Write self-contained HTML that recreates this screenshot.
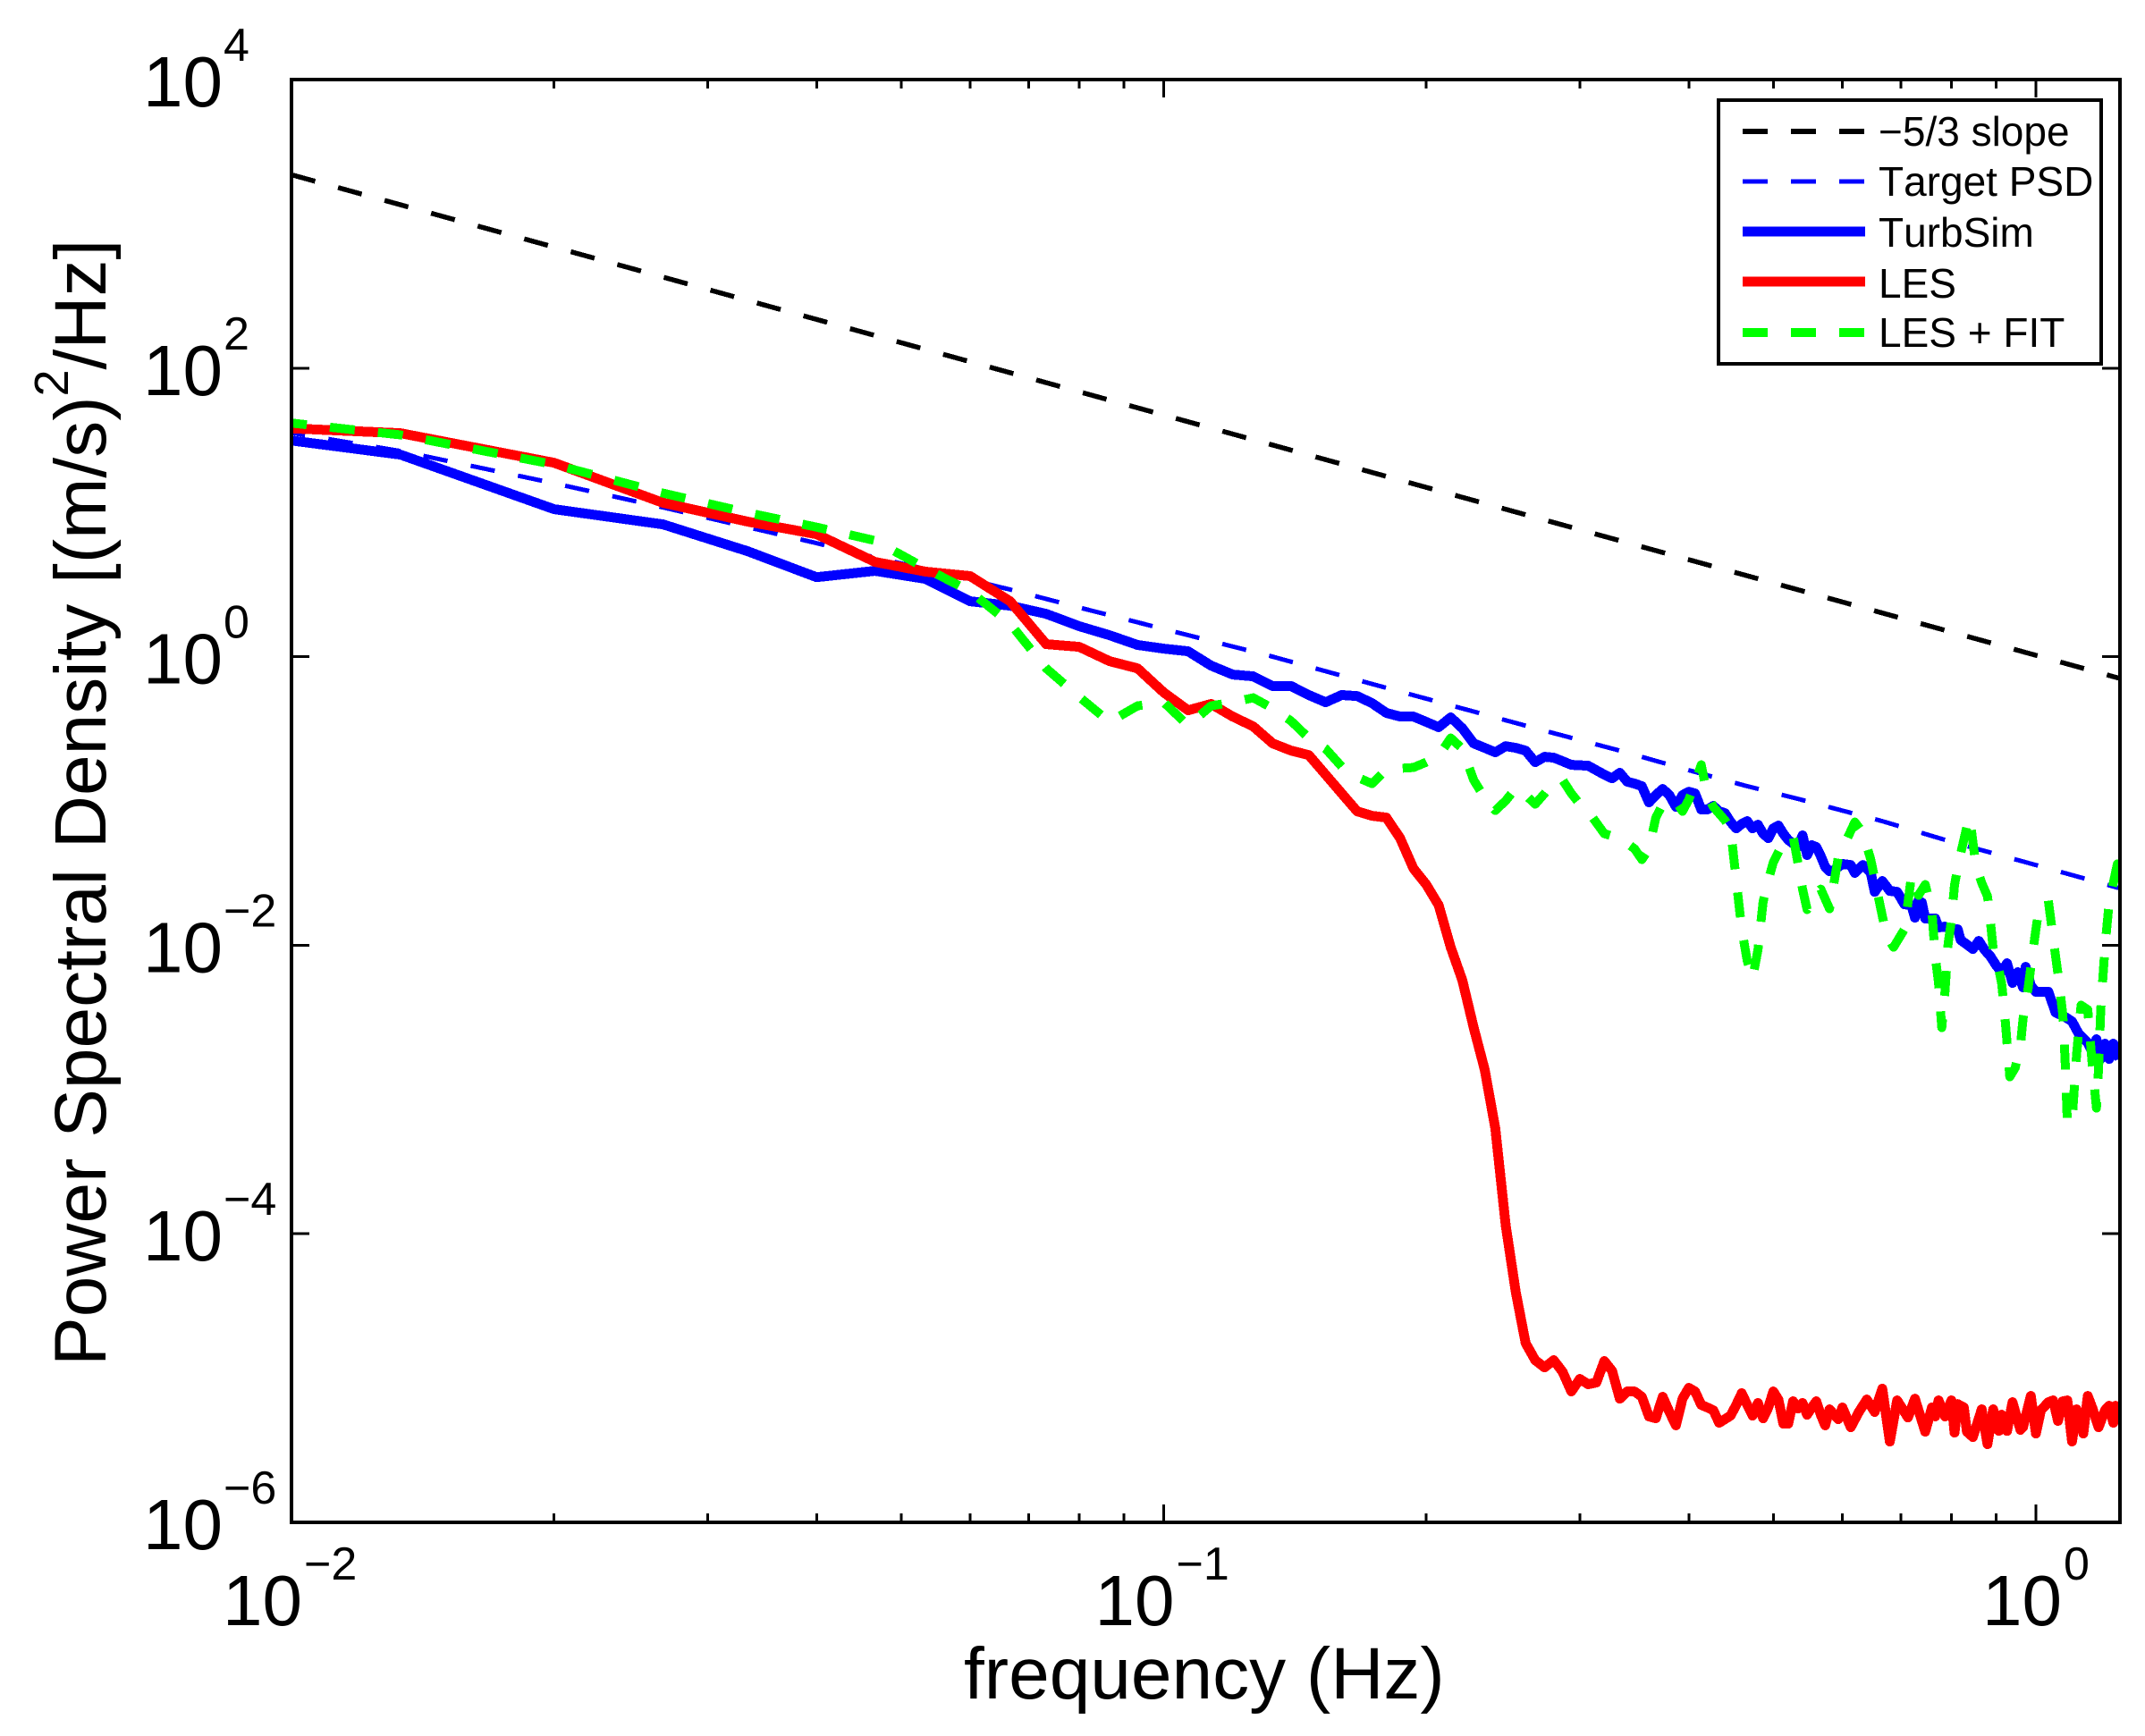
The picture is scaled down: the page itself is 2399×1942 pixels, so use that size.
<!DOCTYPE html>
<html lang="en">
<head>
<meta charset="utf-8">
<title>Power Spectral Density</title>
<style>
html,body{margin:0;padding:0;background:#fff}
svg{display:block}
text{font-family:"Liberation Sans",Arial,sans-serif;fill:#000;font-kerning:none}
path,line,rect{shape-rendering:crispEdges}
</style>
</head>
<body>
<svg id="chart" xmlns="http://www.w3.org/2000/svg" width="2399" height="1942" viewBox="0 0 2399 1942">
  <rect x="0" y="0" width="2399" height="1942" fill="#fff"/>
  <defs><clipPath id="plot-clip"><rect x="326" y="89" width="2045" height="1614"/></clipPath></defs>
  <g id="series-layer" clip-path="url(#plot-clip)"></g>
  <g id="tick-layer"></g>
  <rect x="326" y="89" width="2045" height="1614" fill="none" stroke="#000" stroke-width="4"/>
  <g id="label-layer"></g>
  <text x="1078" y="1900" font-size="82">frequency (Hz)</text>
  <text transform="translate(118 1528) rotate(-90)" font-size="82">Power Spectral Density [(m/s)<tspan font-size="54" dy="-42">2</tspan><tspan dy="42">/Hz]</tspan></text>
  <g>
    <rect x="1922" y="112" width="428" height="295" fill="#fff" stroke="#000" stroke-width="4"/>
    <line x1="1949" y1="147" x2="2086" y2="147" stroke="#000" stroke-width="6" stroke-dasharray="28 26"/>
    <text x="2101" y="163" font-size="46">−5/3 slope</text>
    <line x1="1949" y1="203" x2="2086" y2="203" stroke="#00f" stroke-width="5" stroke-dasharray="28 26"/>
    <text x="2101" y="219" font-size="46">Target PSD</text>
    <line x1="1949" y1="259" x2="2086" y2="259" stroke="#00f" stroke-width="11"/>
    <text x="2101" y="276" font-size="46">TurbSim</text>
    <line x1="1949" y1="315" x2="2086" y2="315" stroke="#f00" stroke-width="11"/>
    <text x="2101" y="333" font-size="46">LES</text>
    <line x1="1949" y1="372" x2="2086" y2="372" stroke="#0f0" stroke-width="10" stroke-dasharray="28 26"/>
    <text x="2101" y="388" font-size="46">LES + FIT</text>
  </g>
</svg>
<script>
// Frequency resolution of the spectra (Hz per bin); series use bin numbers as categories.
const binHz = 1 / 150;
const xTickExponents = [-2, -1, 0];
const xMinorMultipliers = [2, 3, 4, 5, 6, 7, 8, 9];
const yTickExponents = [-6, -4, -2, 0, 2, 4];

// All PSD values are log10 of [(m/s)^2/Hz].
const slopeBins = [1.5, 187];
const slopeLogPsd = [3.340, -0.150];

const targetBins = [1,2,3,4,5,6,7,8,10,12,15,20,25,30,40,50,60,70,80,100,120,150,187];
const targetLogPsd = [1.729,1.425,1.202,1.035,0.898,0.787,0.688,0.607,0.465,0.341,0.192,0,-0.161,-0.291,-0.496,-0.651,-0.787,-0.898,-0.985,-1.140,-1.283,-1.444,-1.605];

const turbsimBins = [
  1,2,3,4,5,6,7,8,9,10,
  11,12,13,14,15,16,17,18,19,20,
  21,22,23,24,25,26,27,28,29,30,
  31,32,33,34,35,36,37,38,39,40,
  41,42,43,44,46,48,49,50,51,52,
  53,54,55,56,57,58,59,60,61,62,
  63,64,65,66,67,68,69,70,71,72,
  73,74,75,76,77,78,80,81,82,83,
  84,85,86,87,88,90,92,93,95,97,
  98,100,102,104,106,108,109,110,111,112,
  115,116,118,120,122,123,125,127,129,131,
  133,135,137,139,141,143,145,146,148,150,
  155,158,162,165,168,172,174,176,178,180,
  182,184,187];
const turbsimLogPsd = [
  1.636,1.400,1.022,0.917,0.731,0.551,0.595,0.539,0.384,0.353,
  0.297,0.211,0.149,0.081,0.056,0.037,-0.062,-0.124,-0.136,-0.204,
  -0.204,-0.266,-0.316,-0.266,-0.273,-0.322,-0.390,-0.415,-0.415,-0.452,
  -0.489,-0.421,-0.496,-0.601,-0.632,-0.663,-0.620,-0.632,-0.651,-0.731,
  -0.694,-0.700,-0.725,-0.750,-0.756,-0.818,-0.843,-0.805,-0.867,-0.880,
  -0.898,-1.010,-0.960,-0.917,-0.960,-1.041,-0.960,-0.936,-0.948,-1.059,
  -1.059,-1.035,-1.072,-1.084,-1.146,-1.190,-1.159,-1.140,-1.190,-1.165,
  -1.227,-1.258,-1.190,-1.171,-1.227,-1.270,-1.320,-1.239,-1.375,-1.307,
  -1.320,-1.382,-1.456,-1.487,-1.481,-1.437,-1.444,-1.499,-1.444,-1.499,
  -1.630,-1.555,-1.623,-1.630,-1.716,-1.722,-1.809,-1.691,-1.704,-1.815,
  -1.815,-1.877,-1.871,-1.890,-1.890,-1.964,-1.995,-2.026,-1.970,-2.032,
  -2.076,-2.138,-2.187,-2.125,-2.261,-2.187,-2.292,-2.150,-2.280,-2.323,
  -2.323,-2.466,-2.497,-2.528,-2.615,-2.677,-2.739,-2.652,-2.788,-2.683,
  -2.788,-2.683,-2.788];

const lesBins = [
  1,2,3,4,5,6,7,8,9,10,
  11,12,13,14,15,16,17,18,19,20,
  21,22,23,24,25,26,27,28,29,30,
  31,32,33,34,35,36,37,38,39,40,
  41,42,43,44,45,46,47,48,49,50,
  51,52,53,54,55,56,57,58,59,60,
  61,62,63,64,65,66,67,68,69,70,
  71,72,73,74,75,76,77,78,79,80,
  81,82,83,84,85,86,87,89,90,92,
  94,96,98,100,102,104,107,109,112,114,
  115,116,118,120,121,122,124,125,127,130,
  132,134,136,137,139,141,144,145,148,150,
  152,155,157,159,161,163,165,167,170,172,
  174,177,180,182,184,185,187];
const lesLogPsd = [
  1.629,1.549,1.344,1.066,0.936,0.849,0.657,0.589,0.558,0.384,
  0.087,0.068,-0.031,-0.081,-0.248,-0.372,-0.328,-0.415,-0.483,-0.601,
  -0.651,-0.682,-0.818,-0.948,-1.072,-1.103,-1.115,-1.258,-1.468,-1.580,
  -1.722,-2.014,-2.243,-2.571,-2.862,-3.271,-3.941,-4.405,-4.758,-4.876,
  -4.926,-4.876,-4.957,-5.093,-5.006,-5.043,-5.031,-4.882,-4.950,-5.143,
  -5.093,-5.093,-5.130,-5.266,-5.279,-5.130,-5.235,-5.328,-5.143,-5.068,
  -5.093,-5.186,-5.204,-5.223,-5.310,-5.285,-5.260,-5.186,-5.105,-5.186,
  -5.260,-5.173,-5.279,-5.204,-5.093,-5.149,-5.316,-5.316,-5.161,-5.211,
  -5.173,-5.254,-5.204,-5.161,-5.254,-5.328,-5.217,-5.285,-5.204,-5.341,
  -5.235,-5.149,-5.235,-5.074,-5.440,-5.155,-5.273,-5.143,-5.372,-5.204,
  -5.266,-5.155,-5.266,-5.155,-5.378,-5.180,-5.204,-5.372,-5.409,-5.217,
  -5.458,-5.217,-5.366,-5.254,-5.366,-5.167,-5.359,-5.341,-5.124,-5.384,
  -5.223,-5.167,-5.155,-5.297,-5.161,-5.155,-5.440,-5.217,-5.384,-5.124,
  -5.204,-5.341,-5.223,-5.192,-5.310,-5.192,-5.266];

const lesFitBins = [
  1,2,3,4,5,6,7,8,9,10,
  11,12,13,14,15,16,17,18,19,20,
  21,22,23,24,25,26,27,28,29,30,
  31,32,33,34,35,36,37,38,39,40,
  41,42,43,44,45,46,48,50,52,53,
  54,55,56,58,59,60,61,62,63,64,
  66,67,68,69,70,71,72,73,74,75,
  77,79,80,81,82,84,85,87,88,89,
  91,93,95,97,99,101,103,106,107,108,
  110,112,114,115,116,117,118,119,120,121,
  123,125,126,128,130,132,133,134,135,137,
  138,140,142,144,145,147,149,151,155,157,
  159,161,162,163,165,167,169,172,174,176,
  177,178,180,182,186,187];
const lesFitLogPsd = [
  1.735,1.537,1.332,1.134,0.998,0.898,0.805,0.613,0.452,0.229,
  -0.081,-0.279,-0.452,-0.341,-0.316,-0.477,-0.341,-0.316,-0.285,-0.359,
  -0.446,-0.564,-0.638,-0.762,-0.836,-0.880,-0.781,-0.774,-0.768,-0.731,
  -0.688,-0.564,-0.638,-0.855,-0.979,-1.066,-0.998,-0.911,-0.960,-1.022,
  -0.948,-0.867,-0.855,-0.948,-1.022,-1.072,-1.227,-1.258,-1.332,-1.406,
  -1.332,-1.115,-1.022,-1.004,-1.072,-0.991,-0.874,-0.750,-0.960,-1.041,
  -1.134,-1.196,-1.549,-1.890,-2.107,-2.230,-2.032,-1.698,-1.549,-1.425,
  -1.289,-1.245,-1.425,-1.611,-1.753,-1.642,-1.611,-1.747,-1.568,-1.394,
  -1.270,-1.146,-1.221,-1.406,-1.673,-1.921,-2.014,-1.890,-1.704,-1.518,
  -1.654,-1.580,-1.766,-2.076,-2.261,-2.571,-2.323,-1.983,-1.828,-1.580,
  -1.363,-1.177,-1.115,-1.444,-1.568,-1.660,-1.828,-2.026,-2.076,-2.261,
  -2.447,-2.912,-2.850,-2.695,-2.509,-2.292,-2.014,-1.766,-1.691,-1.952,
  -2.200,-2.478,-2.788,-3.240,-3.222,-2.757,-2.416,-2.447,-2.819,-3.129,
  -2.850,-2.447,-2.014,-1.704,-1.437,-1.456];

const SVG_NS = 'http://www.w3.org/2000/svg';
const plotLeft = 326, plotRight = 2371, plotTop = 89, plotBottom = 1703;
const pxPerDecadeX = 975.5, pxPerDecadeY = 161.4;
const xAxis = function (hz) { return plotLeft + pxPerDecadeX * (Math.log10(hz) + 2); };
const yAxis = function (logPsd) { return plotBottom - pxPerDecadeY * (logPsd + 6); };

function make(tag, attrs, parent) {
  const el = document.createElementNS(SVG_NS, tag);
  for (const k in attrs) el.setAttribute(k, attrs[k]);
  parent.appendChild(el);
  return el;
}

function pathFrom(bins, logPsd) {
  return bins.map(function (b, i) {
    return (i ? 'L' : 'M') + xAxis(b * binHz).toFixed(1) + ' ' + yAxis(logPsd[i]).toFixed(1);
  }).join(' ');
}

const seriesLayer = document.getElementById('series-layer');
const tickLayer = document.getElementById('tick-layer');
const labelLayer = document.getElementById('label-layer');
const baseLine = {fill: 'none', 'stroke-linejoin': 'round'};

let line;
line = make('path', Object.assign({d: pathFrom(slopeBins, slopeLogPsd), stroke: '#000', 'stroke-width': 5.5, 'stroke-dasharray': '27.5 26.5'}, baseLine), seriesLayer);



line = make('path', Object.assign({d: pathFrom(targetBins, targetLogPsd), stroke: '#00f', 'stroke-width': 5, 'stroke-dasharray': '27.5 26.5'}, baseLine), seriesLayer);



line = make('path', Object.assign({d: pathFrom(turbsimBins, turbsimLogPsd), stroke: '#00f', 'stroke-width': 11}, baseLine), seriesLayer);



line = make('path', Object.assign({d: pathFrom(lesBins, lesLogPsd), stroke: '#f00', 'stroke-width': 11}, baseLine), seriesLayer);



line = make('path', Object.assign({d: pathFrom(lesFitBins, lesFitLogPsd), stroke: '#0f0', 'stroke-width': 10, 'stroke-dasharray': '28 26'}, baseLine), seriesLayer);



function addXTick(hz, len, name) {
  const x = xAxis(hz);
  if (x > plotRight) return;
  const bottom = make('line', {x1: x, x2: x, y1: plotBottom, y2: plotBottom - len, stroke: '#000', 'stroke-width': 3}, tickLayer);
  
  
  const top = make('line', {x1: x, x2: x, y1: plotTop, y2: plotTop + len, stroke: '#000', 'stroke-width': 3}, tickLayer);
  
  
}

function addExponentLabel(baseX, baseY, expX, expY, exponent, name) {
  const base = make('text', {x: baseX, y: baseY, 'font-size': 80}, labelLayer);
  base.textContent = '10';
  
  
  const exp = make('text', {x: expX, y: expY, 'font-size': 52}, labelLayer);
  exp.textContent = String(exponent).replace('-', '\u2212');
  
  
}

xTickExponents.forEach(function (e) {
  const hz = Math.pow(10, e);
  addXTick(hz, 20, 'x-major-tick');
  xMinorMultipliers.forEach(function (m) {
    addXTick(hz * m, 10, 'x-minor-tick');
  });
  const start = e < 0 ? xAxis(hz) - 77 : xAxis(hz) - 60;
  addExponentLabel(start, 1818, start + 91, 1767, e, 'x-tick-label');
});

yTickExponents.forEach(function (e) {
  const y = yAxis(e);
  const left = make('line', {x1: plotLeft, x2: plotLeft + 20, y1: y, y2: y, stroke: '#000', 'stroke-width': 3}, tickLayer);
  
  
  const right = make('line', {x1: plotRight - 20, x2: plotRight, y1: y, y2: y, stroke: '#000', 'stroke-width': 3}, tickLayer);
  
  
  addExponentLabel(160, y + 30, 250, y - 21, e, 'y-tick-label');
});
</script>
</body>
</html>
